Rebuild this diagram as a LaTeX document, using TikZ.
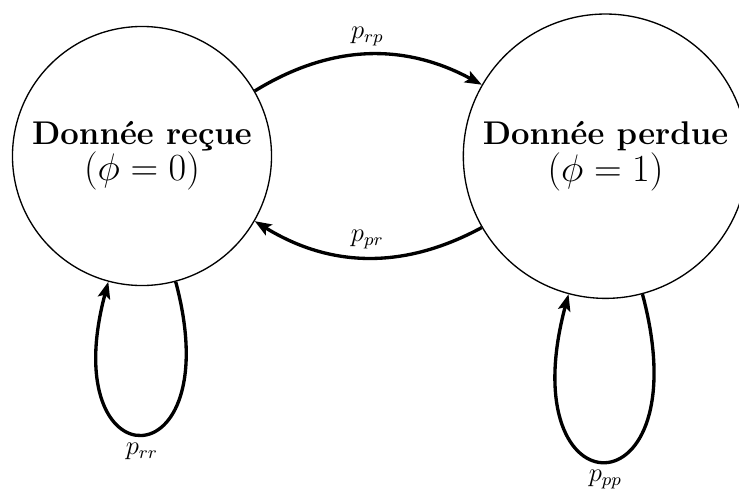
\documentclass[tikz,border=0pt]{standalone}
\usetikzlibrary{arrows.meta}
\newcommand\philine[1]{\fontsize{16.2}{16.4}\selectfont$(\phi=#1)$}
\begin{document}
\begin{tikzpicture}[x=0.4505pt,y=-0.4505pt,
  state/.style={circle,draw,line width=0.6pt,inner sep=0pt,align=center,
    font=\fontsize{14.8}{16.4}\selectfont\bfseries},
  trans/.style={line width=1.5pt,-{Stealth[length=7.5pt,width=5.6pt,inset=1.5pt]}},
  lab/.style={font=\fontsize{12}{14}\selectfont}]
\useasboundingbox (0,0) rectangle (739,491);
\node[state,minimum size=116.7pt] (r) at (142,156) {Donnée reçue\\\philine{0}};
\node[state,minimum size=128.1pt] (p) at (605.5,156.2) {Donnée perdue\\\philine{1}};
\draw[trans] (r) to[bend left=30] node[lab,above] {$p_{rp}$} (p);
\draw[trans] (p) to[bend left=30] node[lab,above] {$p_{pr}$} (r);
\draw[trans] (r) to[out=-75,in=-105,looseness=8,min distance=5mm] node[lab,below] {$p_{rr}$} (r);
\draw[trans] (p) to[out=-75,in=-105,looseness=8,min distance=5mm] node[lab,below] {$p_{pp}$} (p);
\end{tikzpicture}
\end{document}
